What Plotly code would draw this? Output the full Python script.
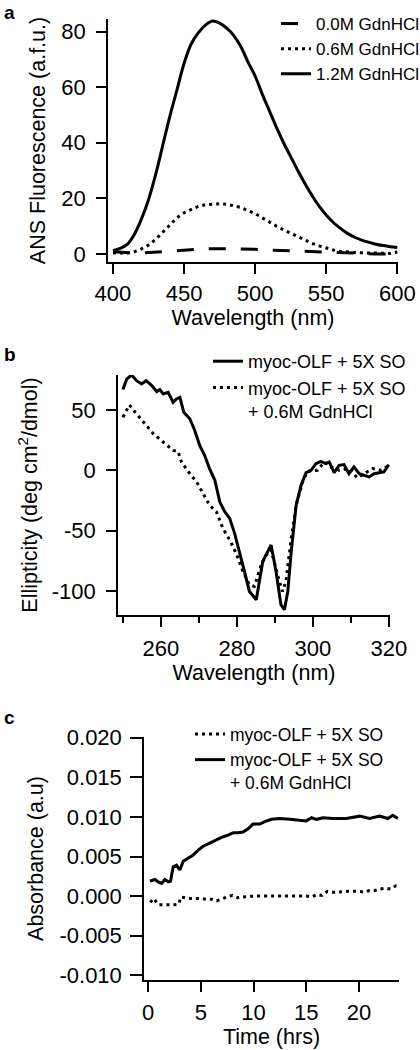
import plotly.graph_objects as go

# ---------------- Panel a: ANS fluorescence ----------------
a_wavelength = [400, 405, 410, 415, 420, 425, 430, 435, 440, 445, 450, 455, 460, 465, 470, 475, 480,
                485, 490, 495, 500, 505, 510, 515, 520, 525, 530, 535, 540, 545, 550, 555, 560, 565,
                570, 575, 580, 585, 590, 595, 600]
a_00M = [0.8, 0.6, 0.4, 0.3, 0.3, 0.4, 0.5, 0.8, 1.0, 1.2, 1.4, 1.6, 1.8, 1.9, 1.9, 1.9, 1.9, 1.8, 1.8,
         1.7, 1.7, 1.5, 1.4, 1.3, 1.2, 1.1, 1.0, 0.9, 0.8, 0.7, 0.6, 0.5, 0.4, 0.2, 0.1, 0.1, 0.0, 0.0,
         0.0, 0.0, 0.1]
a_06M = [0.3, 0.2, 0.3, 0.8, 1.8, 3.2, 5.2, 7.8, 10.5, 13.0, 14.8, 16.1, 17.1, 17.7, 18.0, 18.1, 17.9,
         17.4, 16.7, 15.6, 14.5, 13.0, 11.4, 10.0, 8.7, 7.4, 6.2, 4.9, 3.8, 2.9, 2.1, 1.4, 0.9, 0.6,
         0.5, 0.4, 0.3, 0.2, 0.1, 0.2, 0.7]
a_12M = [1.2, 2.0, 3.4, 7.0, 12.5, 19.5, 28.5, 39.0, 49.5, 59.0, 68.5, 75.5, 79.5, 82.3, 83.8, 83.0,
         81.2, 78.5, 74.5, 69.0, 64.0, 57.5, 51.5, 45.5, 40.0, 35.0, 30.0, 25.3, 21.0, 17.2, 14.0, 11.3,
         9.2, 7.4, 6.0, 5.0, 4.2, 3.5, 3.0, 2.6, 2.3]

# ---------------- Panel b: CD ellipticity ----------------
b_solid_x = [250, 251, 252.3, 253.6, 254.9, 256.1, 257.6, 258.9, 259.7, 260.6, 261.9, 263.2, 264.1, 265,
             266, 267.6, 268.9, 270.2, 271.5, 272.8, 274.2, 275.5, 276.8, 278.1, 279.4, 280.7, 282,
             283.3, 285.1, 286.8, 288.1, 289, 290.3, 291.6, 292.5, 293.4, 294.3, 295.6, 296.9, 298.2,
             299.5, 300.8, 302.1, 303.4, 304.3, 305.6, 306.9, 308.2, 309.5, 310.8, 312.2, 313.5, 314.8,
             316.1, 317.4, 318.7, 320]
b_solid_y = [66.9, 75.7, 79, 74.3, 71.6, 74.3, 70.2, 65.2, 66.9, 63.3, 64.7, 56.4, 59.2, 60.5, 48.2,
             42.7, 33, 20.6, 12.4, 1.4, -8.3, -26.2, -34.4, -39.9, -52.3, -67.4, -84, -100.5, -107.3,
             -75.7, -67.4, -62, -84, -111.5, -115.6, -100.5, -67.4, -28.9, -12.4, -1.9, 0, 5.5, 7.4,
             5.5, 6.9, -1.9, 4.1, 4.7, -2.8, 2.8, -2.8, -4.1, -5.5, -2.8, -1.9, -1.4, 4.7]
b_dot_x = [250, 251.7, 253.2, 255.4, 258, 260.6, 263.2, 264.5, 265.4, 267.6, 269.4, 271.1, 272.8,
           274.6, 276.3, 278.1, 279.8, 281.6, 283.3, 284.6, 286.4, 287.7, 289, 290.7, 292, 292.9,
           294.3, 295.6, 297.3, 298.6, 301.2, 303, 304.7, 306.9, 309.5, 311.7, 313.5, 315.7, 318, 320]
b_dot_y = [44, 54.2, 48.2, 39.9, 30.3, 23.4, 16.5, 15.7, 6.9, -2.8, -9.6, -19.3, -28.9, -34.4, -48.1,
           -57.8, -68.8, -84, -95, -96.3, -78.4, -70.2, -66, -86.7, -100.5, -92.2, -56.4, -28.9,
           -9.6, -0.8, 0, 6.9, 2.8, 0, 1.4, -6.3, -2.8, 1.4, 0, 4.1]
b_yticks = [-100, -50, 0, 50]
b_yticktext = ["-100", "-50", "0", "50"]

# ---------------- Panel c: absorbance vs time ----------------
c_dot_t = [0.2, 0.5, 1.0, 1.5, 2.0, 2.5, 2.9, 3.1, 3.5, 4.0, 4.5, 5.0, 5.5, 6.0, 6.5, 7.0, 7.5, 8.0,
           8.5, 9, 10, 11, 12, 13, 14, 15, 15.5, 16, 16.5, 17, 17.5, 18, 19, 20, 20.5, 21, 21.5, 22,
           22.5, 23, 23.5, 24]
c_dot_v = [-0.0008, -0.0003, -0.0011, -0.0011, -0.0011, -0.0011, -0.0010, -0.0001, -0.0002, -0.0003,
           -0.0003, -0.0003, -0.0004, -0.0004, -0.0006, -0.0003, -0.0001, 0.0001, -0.0002, -0.0001,
           0.0, 0.0, 0.0, 0.0, 0.0, 0.0, -0.0001, 0.0002, 0.0001, 0.0006, 0.0005, 0.0005, 0.0006,
           0.0006, 0.0005, 0.0007, 0.0007, 0.0009, 0.0010, 0.0009, 0.0013, 0.0013]
c_solid_t = [0.16, 0.64, 0.95, 1.27, 1.58, 1.9, 2.12, 2.37, 2.69, 3.0, 3.32, 3.79, 4.27, 4.74, 5.21,
             5.69, 6.16, 6.64, 7.11, 7.58, 8.06, 8.53, 9.0, 9.48, 9.95, 10.59, 11.06, 11.7, 12.48,
             13.43, 14.38, 15.0, 15.5, 15.96, 16.6, 17.5, 18.8, 20.07, 21.0, 21.96, 22.75, 23.2, 23.7]
c_solid_v = [0.0019, 0.0021, 0.0018, 0.0016, 0.0021, 0.0018, 0.0019, 0.0037, 0.0039, 0.0033, 0.0044,
             0.0048, 0.0052, 0.0058, 0.0063, 0.0066, 0.0069, 0.0073, 0.0075, 0.0077, 0.0080, 0.0080,
             0.0081, 0.0085, 0.0091, 0.0091, 0.0094, 0.0097, 0.0098, 0.0097, 0.0096, 0.0095, 0.0099,
             0.0097, 0.0099, 0.0098, 0.0098, 0.0101, 0.0098, 0.0101, 0.0098, 0.0102, 0.0098]
c_yticks = [-0.010, -0.005, 0.0, 0.005, 0.010, 0.015, 0.020]
c_yticktext = ["-0.010", "-0.005", "0.000", "0.005", "0.010", "0.015", "0.020"]

W, H = 420, 1050
FONT = "Liberation Sans, Arial, Helvetica, sans-serif"
DOT = "3px,4px"

fig = go.Figure()

# panel a
fig.add_trace(go.Scatter(x=a_wavelength, y=a_00M, mode="lines", name="0.0M GdnHCl",
                         line=dict(color="black", width=3, dash="17px,15px"),
                         xaxis="x", yaxis="y", legend="legend"))
fig.add_trace(go.Scatter(x=a_wavelength, y=a_06M, mode="lines", name="0.6M GdnHCl",
                         line=dict(color="black", width=3, dash=DOT),
                         xaxis="x", yaxis="y", legend="legend"))
fig.add_trace(go.Scatter(x=a_wavelength, y=a_12M, mode="lines", name="1.2M GdnHCl",
                         line=dict(color="black", width=3, shape="spline"),
                         xaxis="x", yaxis="y", legend="legend"))
# panel b
fig.add_trace(go.Scatter(x=b_solid_x, y=b_solid_y, mode="lines", name="myoc-OLF + 5X SO",
                         line=dict(color="black", width=3),
                         xaxis="x2", yaxis="y2", legend="legend2"))
fig.add_trace(go.Scatter(x=b_dot_x, y=b_dot_y, mode="lines",
                         name="myoc-OLF + 5X SO<br>+ 0.6M GdnHCl",
                         line=dict(color="black", width=3, dash=DOT),
                         xaxis="x2", yaxis="y2", legend="legend2"))
# panel c
fig.add_trace(go.Scatter(x=c_dot_t, y=c_dot_v, mode="lines", name="myoc-OLF + 5X SO",
                         line=dict(color="black", width=3, dash=DOT),
                         xaxis="x3", yaxis="y3", legend="legend3"))
fig.add_trace(go.Scatter(x=c_solid_t, y=c_solid_v, mode="lines",
                         name="myoc-OLF + 5X SO<br>+ 0.6M GdnHCl",
                         line=dict(color="black", width=3),
                         xaxis="x3", yaxis="y3", legend="legend3"))


def px_x(a, b):
    return [a / W, b / W]


def px_y(top, bottom):
    return [1 - bottom / H, 1 - top / H]


axis_common = dict(showline=True, linecolor="black", linewidth=1.5, ticks="outside", ticklen=10,
                   tickwidth=1.5, tickcolor="black", showgrid=False, zeroline=False,
                   tickfont=dict(size=22, color="black", family=FONT),
                   title_font=dict(size=21.5, color="black", family=FONT))

legend_common = dict(xanchor="left", yanchor="top", bgcolor="rgba(0,0,0,0)", valign="top",
                     tracegroupgap=0)

layout = dict(
    width=W, height=H, paper_bgcolor="white", plot_bgcolor="white",
    margin=dict(l=0, r=0, t=0, b=0, autoexpand=False),
    font=dict(family=FONT, color="black"),
    xaxis=dict(axis_common, domain=px_x(108, 398), range=[396.5, 600.5], anchor="y",
               tickvals=[400, 450, 500, 550, 600], ticklabelstandoff=1,
               title=dict(text="Wavelength (nm)", standoff=0)),
    yaxis=dict(axis_common, domain=px_y(19, 262), range=[-2.9, 84.5], anchor="x",
               tickvals=[0, 20, 40, 60, 80], ticklabelstandoff=6,
               title=dict(text="ANS Fluorescence (a.f.u.)", standoff=10)),
    xaxis2=dict(axis_common, domain=px_x(118, 390), range=[248.7, 320.3], anchor="y2",
                tickvals=[260, 280, 300, 320], ticklabelstandoff=3,
                minor=dict(ticks="outside", ticklen=6, tickwidth=1.5, tickcolor="black",
                           tickvals=[250, 270, 290, 310]),
                title=dict(text="Wavelength (nm)", standoff=2)),
    yaxis2=dict(axis_common, domain=px_y(375, 615), range=[-120, 79], anchor="x2",
                tickvals=b_yticks, ticktext=b_yticktext, ticklabelstandoff=6,
                title=dict(text="Ellipticity (deg cm<sup>2</sup>/dmol)", standoff=8)),
    xaxis3=dict(axis_common, domain=px_x(144, 399), range=[-0.4, 23.8], anchor="y3",
                tickvals=[0, 5, 10, 15, 20], ticklabelstandoff=2,
                title=dict(text="Time (hrs)", standoff=2)),
    yaxis3=dict(axis_common, domain=px_y(737, 980), range=[-0.0106, 0.0201], anchor="x3",
                tickvals=c_yticks, ticktext=c_yticktext, ticklabelstandoff=4, ticklen=12,
                title=dict(text="Absorbance (a.u)", standoff=10)),
    legend=dict(legend_common, x=276 / W, y=1 - 6 / H,
                font=dict(size=17, family=FONT, color="black")),
    legend2=dict(legend_common, x=208 / W, y=1 - 343 / H,
                 font=dict(size=18, family=FONT, color="black")),
    legend3=dict(legend_common, x=190 / W, y=1 - 716 / H,
                 font=dict(size=17.5, family=FONT, color="black")),
    showlegend=True,
    annotations=[
        dict(text="<b>a</b>", x=2 / W, y=1 - 0 / H, xref="paper", yref="paper", xanchor="left",
             yanchor="top", showarrow=False,
             font=dict(size=19, family=FONT, color="black")),
        dict(text="<b>b</b>", x=2 / W, y=1 - 342 / H, xref="paper", yref="paper", xanchor="left",
             yanchor="top", showarrow=False, font=dict(size=19, family=FONT, color="black")),
        dict(text="<b>c</b>", x=2 / W, y=1 - 705 / H, xref="paper", yref="paper", xanchor="left",
             yanchor="top", showarrow=False, font=dict(size=19, family=FONT, color="black")),
    ],
)
fig.update_layout(**layout)
fig.write_html("out.html", config={"displayModeBar": False},
               post_script="document.body.style.margin='0';document.body.style.overflow='hidden';")
